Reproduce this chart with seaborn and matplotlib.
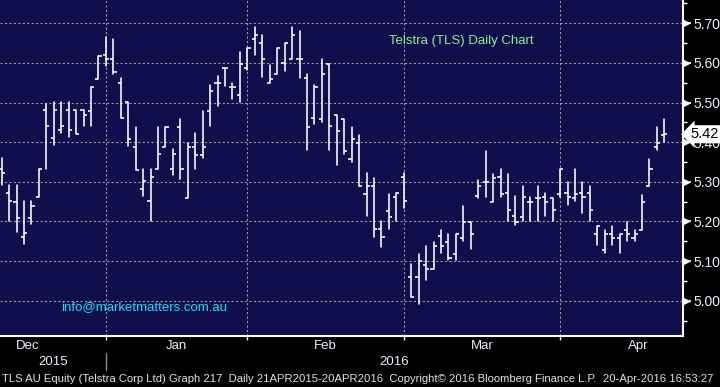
import numpy as np
import pandas as pd
import seaborn as sns
import matplotlib
matplotlib.use("Agg")
import matplotlib.pyplot as plt
import matplotlib.transforms as mtrans
from matplotlib.lines import Line2D

# ---------------- data ----------------
opens = [5.332, 5.271, 5.250, 5.161, 5.209, 5.261, 5.481, 5.410, 5.430, 5.481,
         5.481, 5.481, 5.479, 5.560, 5.619, 5.609, 5.550, 5.501, 5.388, 5.282,
         5.251, 5.332, 5.388, 5.332, 5.439, 5.260, 5.388, 5.368, 5.479, 5.550,
         5.587, 5.539, 5.519, 5.587, 5.660, 5.650, 5.550, 5.571, 5.599, 5.609,
         5.609, 5.561, 5.461, 5.459, 5.597, 5.469, 5.459, 5.358, 5.398, 5.270,
         5.290, 5.180, 5.226, 5.261, 5.312, 5.060, 5.060, 5.091, 5.081, 5.164,
         5.149, 5.118, 5.159, 5.198, 5.265, 5.300, 5.250, 5.312, 5.271, 5.214,
         5.210, 5.250, 5.260, 5.261, 5.260, 5.268, 5.271, 5.260, 5.271, 5.271,
         5.169, 5.129, 5.169, 5.159, 5.179, 5.159, 5.179, 5.290, 5.388, 5.418]
highs = [5.360, 5.292, 5.292, 5.252, 5.252, 5.332, 5.496, 5.501, 5.501, 5.501,
         5.481, 5.481, 5.539, 5.618, 5.666, 5.660, 5.561, 5.501, 5.439, 5.332,
         5.332, 5.439, 5.439, 5.383, 5.459, 5.398, 5.424, 5.479, 5.545, 5.566,
         5.587, 5.550, 5.628, 5.638, 5.690, 5.670, 5.594, 5.638, 5.650, 5.690,
         5.680, 5.571, 5.545, 5.609, 5.597, 5.469, 5.459, 5.439, 5.418, 5.322,
         5.310, 5.202, 5.270, 5.271, 5.322, 5.092, 5.118, 5.139, 5.149, 5.179,
         5.169, 5.169, 5.239, 5.198, 5.305, 5.378, 5.320, 5.332, 5.320, 5.265,
         5.290, 5.261, 5.290, 5.271, 5.260, 5.332, 5.300, 5.332, 5.300, 5.290,
         5.189, 5.179, 5.189, 5.169, 5.199, 5.179, 5.266, 5.358, 5.439, 5.459]
lows = [5.293, 5.202, 5.173, 5.142, 5.193, 5.261, 5.332, 5.392, 5.422, 5.412,
        5.420, 5.440, 5.440, 5.560, 5.591, 5.573, 5.461, 5.390, 5.330, 5.264,
        5.202, 5.332, 5.388, 5.317, 5.307, 5.260, 5.332, 5.360, 5.440, 5.492,
        5.541, 5.509, 5.501, 5.582, 5.619, 5.564, 5.550, 5.571, 5.580, 5.609,
        5.561, 5.380, 5.445, 5.450, 5.380, 5.342, 5.370, 5.350, 5.290, 5.213,
        5.160, 5.135, 5.181, 5.202, 5.233, 5.010, 4.992, 5.053, 5.081, 5.121,
        5.103, 5.103, 5.150, 5.130, 5.258, 5.261, 5.250, 5.261, 5.202, 5.192,
        5.202, 5.202, 5.202, 5.213, 5.202, 5.261, 5.241, 5.251, 5.221, 5.202,
        5.140, 5.120, 5.140, 5.120, 5.150, 5.150, 5.179, 5.290, 5.380, 5.400]
closes = [5.321, 5.251, 5.209, 5.171, 5.239, 5.332, 5.440, 5.481, 5.440, 5.430,
          5.420, 5.469, 5.539, 5.618, 5.609, 5.578, 5.461, 5.408, 5.330, 5.302,
          5.312, 5.370, 5.439, 5.370, 5.332, 5.388, 5.368, 5.388, 5.529, 5.550,
          5.587, 5.539, 5.597, 5.638, 5.670, 5.609, 5.560, 5.638, 5.650, 5.670,
          5.609, 5.439, 5.539, 5.571, 5.440, 5.429, 5.378, 5.408, 5.290, 5.290,
          5.180, 5.161, 5.211, 5.271, 5.251, 5.010, 5.101, 5.081, 5.139, 5.139,
          5.108, 5.169, 5.198, 5.169, 5.290, 5.300, 5.310, 5.268, 5.229, 5.198,
          5.261, 5.250, 5.260, 5.250, 5.229, 5.332, 5.261, 5.268, 5.261, 5.229,
          5.189, 5.169, 5.159, 5.169, 5.169, 5.169, 5.250, 5.332, 5.398, 5.420]

month_labels = ["Dec", "Jan", "Feb", "Mar", "Apr"]
month_starts = [-7, 14, 33, 54, 75, 96]   # session index of first trading day of each month
year_labels = ["2015", "2016"]
y_ticks = [5.00, 5.10, 5.20, 5.30, 5.40, 5.50, 5.60, 5.70]
last_price = 5.42
title_text = "Telstra (TLS) Daily Chart"
email_text = "info@marketmatters.com.au"
footer_text = ("TLS AU Equity (Telstra Corp Ltd) Graph 217  Daily 21APR2015-20APR2016  "
               "Copyright\u00a9 2016 Bloomberg Finance L.P.  20-Apr-2016 16:53:27")

# ---------------- style ----------------
sns.set_theme(style="dark")
plt.rcParams["font.family"] = ["Liberation Sans", "DejaVu Sans"]

W, H = 720, 387
fig = plt.figure(figsize=(W / 100, H / 100), dpi=100, facecolor="black")
ax_right = 682.7 / W
ax_bottom = 1 - 336 / H
ax = fig.add_axes([0, ax_bottom, ax_right, 1 - ax_bottom])
ax.set_facecolor("#0f0d4b")

n = len(opens)
df = pd.DataFrame({"day": np.arange(n), "open": opens, "high": highs,
                   "low": lows, "close": closes})
long = df.melt(id_vars="day", value_vars=["low", "high"], value_name="price")

bar_lw = 1.15
sns.lineplot(data=long, x="day", y="price", units="day", estimator=None,
             color="white", lw=bar_lw, ax=ax, legend=False)
tick_len = 0.42
ax.hlines(df["open"], df["day"] - tick_len, df["day"], color="white", lw=bar_lw)
ax.hlines(df["close"], df["day"], df["day"] + tick_len, color="white", lw=bar_lw)

ax.set_xlim(-0.228, 91.47)
ax.set_ylim(4.9109, 5.7588)
ax.set_xlabel("")
ax.set_ylabel("")

# grid
grid_kw = dict(color="#9a9a9a", lw=0.8, ls=(0, (2, 2)), zorder=0.5)
for yv in y_ticks:
    ax.axhline(yv, **grid_kw)
for xv in month_starts[1:-1]:
    ax.axvline(xv, **grid_kw)
ax.grid(False)

# axes / spines
for s in ["left", "top"]:
    ax.spines[s].set_visible(False)
for s in ["right", "bottom"]:
    ax.spines[s].set_visible(True)
    ax.spines[s].set_color("white")
    ax.spines[s].set_linewidth(1.5)

ax.yaxis.tick_right()
ax.set_yticks(y_ticks)
ax.set_yticklabels([f"{v:.2f}" for v in y_ticks])
ax.set_yticks(np.round(np.arange(4.95, 5.76, 0.10), 2), minor=True)
ax.tick_params(axis="y", which="major", length=6, width=1.2, color="white",
               labelcolor="#e8eeff", labelsize=10, pad=1.5, right=True, left=False)
ax.tick_params(axis="y", which="minor", length=3, width=1.0, color="white",
               right=True, left=False)
ax.set_xticks(month_starts[1:-1])
ax.set_xticklabels([])
ax.tick_params(axis="x", which="major", length=3, width=1.0, color="white",
               bottom=True)

# small triangles on major ticks
tri_tr = mtrans.offset_copy(mtrans.blended_transform_factory(ax.transAxes, ax.transData),
                            fig=fig, x=3, y=0, units="dots")
ax.plot([1.0] * len(y_ticks), y_ticks, ls="none", marker=">", ms=4.5,
        color="white", transform=tri_tr, clip_on=False)

# last price flag (covers part of the 5.40 label, as in the original)
ax.text(1.0, last_price, f"{last_price:.2f}",
        transform=mtrans.offset_copy(mtrans.blended_transform_factory(ax.transAxes, ax.transData),
                                     fig=fig, x=8, y=0, units="dots"),
        ha="left", va="center", fontsize=10.5, color="black", clip_on=False, zorder=10,
        bbox=dict(boxstyle="larrow,pad=0.14", fc="white", ec="none"))

# month / year labels
xfig = mtrans.blended_transform_factory(ax.transData, fig.transFigure)
for i, lab in enumerate(month_labels):
    xc = (month_starts[i] + month_starts[i + 1]) / 2
    fig.text(xc, 1 - 345.7 / H, lab, transform=xfig, ha="center", va="center",
             fontsize=9.5, color="#e8eeff")
xmin, xmax = ax.get_xlim()
year_bounds = [xmin, month_starts[1], xmax]
for i, lab in enumerate(year_labels):
    xc = (year_bounds[i] + year_bounds[i + 1]) / 2
    fig.text(xc, 1 - 362.3 / H, lab, transform=xfig, ha="center", va="center",
             fontsize=9.5, color="#e8eeff")
fig.add_artist(Line2D([month_starts[1], month_starts[1]], [1 - 353 / H, 1 - 370 / H],
                      transform=xfig, color="#8a8a8a", lw=1.0))

# annotations
fig.text(389 / W, 1 - 41 / H, title_text, ha="left", va="center",
         fontsize=9.5, color="#86f08a")
fig.text(61 / W, 1 - 307 / H, email_text, ha="left", va="center",
         fontsize=9.5, color="#19e0f0")

foot = fig.text(2 / W, 1 - 379 / H, footer_text, ha="left", va="center",
                fontsize=9, color="#e0e0e0",
                family=["Liberation Sans Narrow", "Liberation Sans", "DejaVu Sans"])
fig.canvas.draw()
r = fig.canvas.get_renderer()
wpx = foot.get_window_extent(r).width
foot.set_fontsize(9 * 715 / wpx)

fig.savefig("out.png", dpi=100, facecolor="black")
